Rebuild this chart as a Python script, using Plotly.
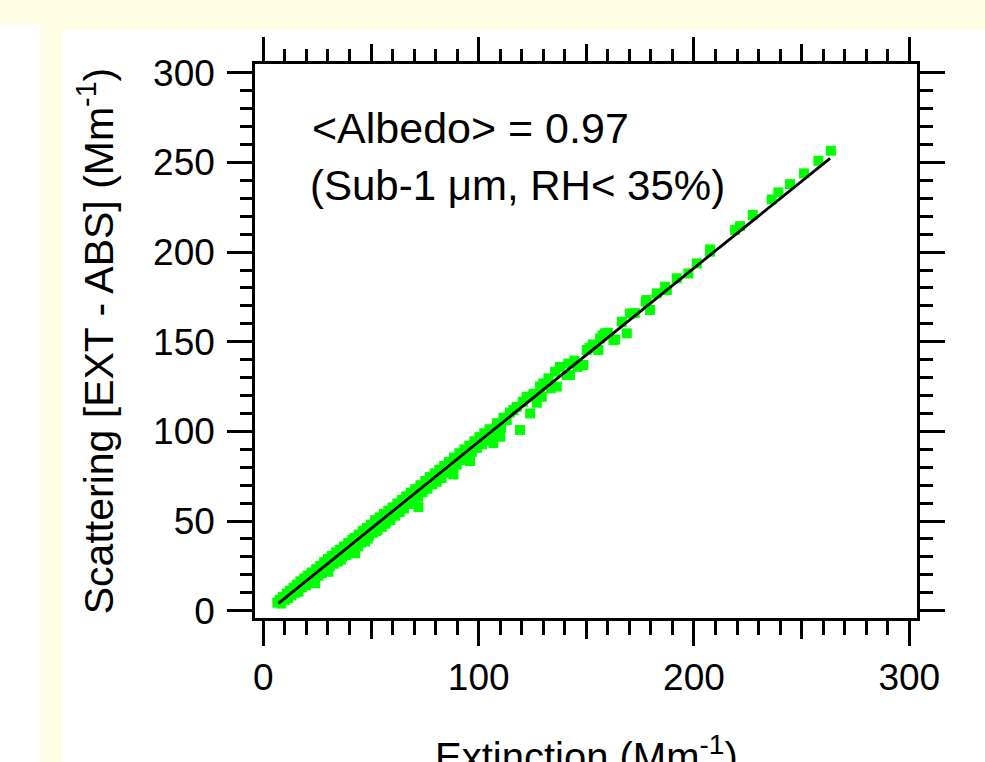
import plotly.graph_objects as go

# ---- data ----
ext = [6.5, 7.5, 8.3, 9.0, 10.0, 10.8, 11.5, 12.4, 13.0, 14.0, 14.8, 15.5, 16.3, 17.2, 18.0,
       19.0, 19.8, 20.6, 21.5, 22.4, 23.2, 24.0, 24.5, 25.6, 26.4, 27.2, 28.2, 29.0, 30.2, 30.0,
       31.0, 31.8, 32.7, 33.8, 34.6, 35.5, 36.5, 37.4, 38.5, 39.4, 40.4, 41.3, 42.6, 42.3, 43.4,
       44.3, 45.3, 46.2, 47.2, 48.0, 49.0, 50.0, 51.0, 51.9, 53.0, 54.0, 55.0, 56.0, 57.0, 58.0,
       59.0, 60.0, 61.2, 62.2, 63.3, 64.3, 65.3, 66.4, 67.4, 68.5, 69.5, 70.5, 72.0, 71.8, 73.0,
       74.0, 75.2, 76.2, 77.4, 78.5, 79.6, 80.5, 81.7, 82.8, 84.0, 85.0, 86.2, 87.3, 88.3, 88.6,
       89.8, 91.0, 92.2, 93.4, 94.5, 95.6, 96.0, 96.8, 98.0, 99.2, 100.4, 101.5, 102.6, 103.8, 105.0,
       106.8, 107.2, 108.5, 110.0, 110.4, 111.5, 113.0, 114.5, 116.1, 117.7, 119.2, 120.5, 122.3, 123.9, 123.1,
       125.5, 127.0, 128.5, 129.3, 130.0, 132.4, 133.5, 135.5, 136.3, 137.8, 140.9, 141.7, 142.4, 144.5, 146.0,
       148.6, 150.2, 151.5, 153.0, 155.6, 156.4, 157.5, 158.7, 160.0, 162.6, 163.4, 166.5, 168.8, 170.3, 172.5,
       177.6, 178.0, 179.6, 182.7, 186.6, 187.4, 192.0, 197.4, 201.3, 207.5, 207.5, 219.1, 221.4, 227.3, 236.1,
       239.2, 244.6, 251.1, 257.8, 263.6,
       36.0, 40.0, 44.0, 48.5, 52.5, 56.5]
scat = [4.5, 6.0, 4.0, 7.6, 6.0, 9.5, 7.0, 11.2, 8.5, 12.8, 10.0, 14.5, 10.6, 16.4, 13.0,
        18.0, 14.2, 19.6, 16.0, 21.3, 17.0, 15.3, 23.2, 19.5, 25.0, 21.0, 27.0, 22.6, 21.7, 28.8,
        25.0, 30.6, 26.2, 32.5, 27.5, 34.0, 30.0, 35.8, 31.0, 37.8, 33.0, 39.5, 32.0, 40.6, 36.5,
        42.5, 38.0, 44.5, 38.5, 46.2, 41.8, 48.0, 43.5, 50.5, 45.0, 52.0, 46.8, 54.0, 49.5, 55.8,
        50.5, 57.6, 53.0, 59.8, 55.0, 61.8, 57.0, 63.8, 59.5, 65.8, 61.5, 67.8, 57.8, 63.5, 70.0,
        66.0, 72.3, 68.0, 74.5, 70.5, 76.6, 71.9, 78.6, 74.0, 80.8, 77.0, 83.0, 79.0, 76.0, 85.5,
        81.5, 87.8, 84.0, 90.0, 86.0, 92.0, 83.5, 88.5, 94.5, 90.8, 96.8, 92.8, 99.0, 95.0, 101.2,
        93.5, 99.0, 104.6, 97.0, 102.0, 107.6, 106.3, 110.5, 111.9, 113.7, 100.8, 116.5, 119.3, 110.0, 119.3,
        121.0, 116.0, 125.0, 119.3, 126.8, 129.6, 124.0, 133.3, 125.0, 136.0, 131.4, 137.9, 131.4, 139.5, 136.0,
        137.0, 145.4, 146.5, 148.5, 145.4, 151.9, 153.5, 154.7, 155.0, 150.9, 151.2, 161.2, 154.7, 165.8, 166.0,
        172.3, 173.3, 167.7, 177.0, 180.7, 178.8, 185.4, 188.1, 193.7, 200.2, 201.5, 212.3, 214.5, 220.7, 229.4,
        233.3, 237.9, 243.9, 250.9, 256.5,
        28.5, 32.2, 35.8, 40.2, 44.5, 48.5]

fit_x = [7.0, 263.2]
fit_y = [4.1, 252.3]

x_major = [0, 100, 200, 300]
x_major_labels = ["0", "100", "200", "300"]
x_mid = [50, 150, 250]
y_major = [0, 50, 100, 150, 200, 250, 300]
y_major_labels = ["0", "50", "100", "150", "200", "250", "300"]

annot_line1 = "&lt;Albedo&gt; = 0.97"
annot_line2 = "(Sub-1 μm, RH&lt; 35%)"
x_title = "Extinction (Mm<sup>-1</sup>)"
y_title = "Scattering [EXT - ABS] (Mm<sup>-1</sup>)"

# ---- figure ----
FONT = "Liberation Sans, Arial, Helvetica, sans-serif"
XR = [-3.9, 303.6]
YR = [-4.07, 304.9]
LW = 2.6

fig = go.Figure()
fig.add_trace(go.Scatter(x=ext, y=scat, mode="markers",
                         marker=dict(symbol="square", size=10, color="#00FF00", line=dict(width=0)),
                         showlegend=False, hoverinfo="skip"))
fig.add_trace(go.Scatter(x=fit_x, y=fit_y, mode="lines",
                         line=dict(color="black", width=2.8), showlegend=False, hoverinfo="skip"))
# invisible helpers so overlay axes are drawn
for xa, ya in [("x2", "y"), ("x3", "y"), ("x4", "y"), ("x", "y2")]:
    fig.add_trace(go.Scatter(x=[None], y=[None], xaxis=xa, yaxis=ya, showlegend=False, hoverinfo="skip"))

tickfont = dict(family=FONT, size=37, color="black")
common = dict(range=XR, showgrid=False, zeroline=False, automargin=False)

fig.update_layout(
    width=985, height=762,
    margin=dict(l=255, r=68, t=64, b=144, autoexpand=False),
    paper_bgcolor="#FFFDE3",
    plot_bgcolor="white",
    showlegend=False,
    font=dict(family=FONT, color="black"),
    xaxis=dict(**common, showline=True, linecolor="black", linewidth=LW,
               ticks="outside", tickmode="array", tickvals=x_major, ticktext=x_major_labels,
               ticklen=25, tickwidth=LW, tickcolor="black", tickfont=tickfont, ticklabelstandoff=0,
               minor=dict(ticks="outside", tickmode="linear", tick0=0, dtick=10, ticklen=14,
                          tickwidth=LW, tickcolor="black")),
    xaxis3=dict(**common, overlaying="x", side="bottom", anchor="y", showline=False,
                ticks="outside", tickmode="array", tickvals=x_mid,
                showticklabels=False, ticklen=20, tickwidth=LW, tickcolor="black"),
    xaxis2=dict(**common, overlaying="x", side="top", anchor="y", showline=True, linecolor="black",
                linewidth=LW, ticks="outside", tickmode="array",
                tickvals=x_major, showticklabels=False, ticklen=24, tickwidth=LW,
                tickcolor="black",
                minor=dict(ticks="outside", tickmode="linear", tick0=0, dtick=10, ticklen=12,
                           tickwidth=LW, tickcolor="black")),
    xaxis4=dict(**common, overlaying="x", side="top", anchor="y", showline=False,
                ticks="outside", tickmode="array", tickvals=x_mid,
                showticklabels=False, ticklen=19, tickwidth=LW, tickcolor="black"),
    yaxis=dict(range=YR, showline=True, linecolor="black", linewidth=LW, showgrid=False, zeroline=False,
               automargin=False,
               ticks="outside", tickmode="array", tickvals=y_major, ticktext=y_major_labels,
               ticklen=25, tickwidth=LW, tickcolor="black", tickfont=tickfont, ticklabelstandoff=5,
               minor=dict(ticks="outside", tickmode="linear", tick0=0, dtick=10, ticklen=12,
                          tickwidth=LW, tickcolor="black"),
               title=dict(text=y_title, font=dict(family=FONT, size=41), standoff=27)),
    yaxis2=dict(range=YR, overlaying="y", side="right", anchor="x", showline=True, linecolor="black",
                linewidth=LW, showgrid=False, zeroline=False, automargin=False,
                ticks="outside", tickmode="array",
                tickvals=y_major, showticklabels=False, ticklen=25, tickwidth=LW,
                tickcolor="black",
                minor=dict(ticks="outside", tickmode="linear", tick0=0, dtick=10, ticklen=13,
                           tickwidth=LW, tickcolor="black")),
    shapes=[
        dict(type="rect", xref="paper", yref="paper", x0=-0.3852, x1=-0.3248, y0=-0.4, y1=1.0704,
             fillcolor="white", line=dict(width=0), layer="below"),
        dict(type="rect", xref="paper", yref="paper", x0=-0.2915, x1=1.11, y0=-0.4, y1=1.0614,
             fillcolor="white", line=dict(width=0), layer="below"),
    ],
    annotations=[
        dict(text=annot_line1, xref="paper", yref="paper", x=0.083, y=0.884, xanchor="left",
             yanchor="middle", showarrow=False, font=dict(family=FONT, size=43, color="black")),
        dict(text=annot_line2, xref="paper", yref="paper", x=0.080, y=0.78, xanchor="left",
             yanchor="middle", showarrow=False, font=dict(family=FONT, size=42, color="black")),
        dict(text=x_title, xref="paper", yref="paper", x=0.5, y=-0.197, xanchor="center",
             yanchor="top", showarrow=False, font=dict(family=FONT, size=40, color="black")),
    ],
)

fig.write_html("out.html", config={"displayModeBar": False},
               post_script="document.body.style.margin='0';document.body.style.padding='0';"
                           "document.documentElement.style.overflow='hidden';")
